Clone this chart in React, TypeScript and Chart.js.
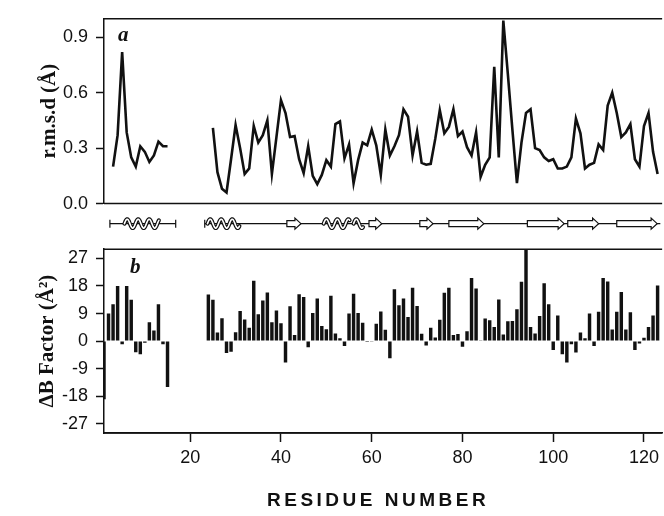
import React, { useEffect, useRef } from 'react';
import { Chart, registerables } from 'chart.js';

Chart.register(...registerables);

// ---------- data ----------
const FIRST_RESIDUE = 1;
const residueMin = 1;
const residueMax = 124;
const residueTicks = [20, 40, 60, 80, 100, 120];
const rmsdTicks = [0, 0.3, 0.6, 0.9];
const deltaBTicks = [-27, -18, -9, 0, 9, 18, 27];

// r.m.s.d (Å) per residue, residues 1..123 (null = no data)
const rmsd = [
  null, null, 0.20, 0.37, 0.82, 0.385, 0.25, 0.20, 0.31, 0.28, // 1-10
  0.225, 0.26, 0.335, 0.31, 0.31, null, null, null, null, null, // 11-20
  null, null, null, null, 0.41, 0.17, 0.08, 0.06, 0.24, 0.425, // 21-30
  0.30, 0.16, 0.19, 0.42, 0.33, 0.37, 0.45, 0.16, 0.36, 0.56, // 31-40
  0.49, 0.36, 0.365, 0.24, 0.165, 0.31, 0.15, 0.105, 0.155, 0.235, // 41-50
  0.20, 0.43, 0.445, 0.245, 0.32, 0.11, 0.235, 0.33, 0.315, 0.40, // 51-60
  0.315, 0.155, 0.40, 0.26, 0.31, 0.37, 0.51, 0.47, 0.26, 0.39, // 61-70
  0.22, 0.21, 0.215, 0.35, 0.505, 0.38, 0.415, 0.51, 0.365, 0.39, // 71-80
  0.305, 0.26, 0.385, 0.145, 0.21, 0.25, 0.74, 0.25, 0.99, 0.70, // 81-90
  0.40, 0.11, 0.33, 0.49, 0.51, 0.30, 0.29, 0.25, 0.23, 0.24, // 91-100
  0.19, 0.19, 0.20, 0.25, 0.46, 0.38, 0.19, 0.21, 0.22, 0.32, // 101-110
  0.29, 0.53, 0.60, 0.49, 0.36, 0.385, 0.43, 0.24, 0.20, 0.42, // 111-120
  0.49, 0.28, 0.16, // 121-123
];

// ΔB Factor (Å²) per residue, residues 1..123 (null = no data)
const deltaB = [
  -19, 9, 12, 18, -1, 18, 13.5, -3.6, -4.3, -0.5, // 1-10
  6.2, 3.5, 12, -1, -15, null, null, null, null, null, // 11-20
  null, null, null, 15.2, 13.5, 2.8, 7.5, -3.9, -3.5, 2.9, // 21-30
  9.8, 7.1, 4.4, 19.7, 8.8, 13.3, 15.9, 6.2, 10, 5.8, // 31-40
  -7, 11.4, 2, 15.3, 14.4, -2, 9.2, 13.9, 4.9, 3.9, // 41-50
  14.8, 2.5, 0.9, -1.6, 9, 15.5, 9.2, 6, -0.3, -0.2, // 51-60
  5.7, 9.7, 3.7, -5.6, 16.9, 11.7, 13.9, 7.9, 17.4, 11.5, // 61-70
  2.4, -1.4, 4.4, 1.2, 7, 15.8, 17.4, 2, 2.3, -1.8, // 71-80
  3.2, 20.6, 17.2, 0.3, 7.4, 6.8, 4.6, 13.6, 2.2, 6.5, // 81-90
  6.6, 10.4, 19.4, 29.8, 4.6, 2.5, 8.2, 18.9, 12, -2.9, // 91-100
  8.4, -4.3, -7, -1, -3.7, 2.8, 0.9, 9, -1.6, 9.6, // 101-110
  20.6, 19.5, 3.8, 9.6, 16, 3.8, 9.4, -2.9, -0.8, 1.1, // 111-120
  4.6, 8.4, 18.2, // 121-123
];

// secondary structure (residue ranges)
const coilSegments = [[2.3, 16.8], [23.2, 123.6]];
const coilCaps = [2.3, 16.8, 23.2];
const helixSegments = [[5.5, 13.2], [23.8, 30.9], [49.4, 55.2], [56.0, 58.2]];
const strandSegments = [
  [41.3, 44.4], [59.4, 62.2], [70.6, 73.5], [77.0, 84.7],
  [94.3, 102.4], [103.2, 110.0], [114.0, 122.9],
];

const panelLabels = ['a', 'b'];
const rmsdTitle = 'r.m.s.d (Å)';
const deltaBTitle = 'ΔB Factor (Å²)';
const xTitle = 'RESIDUE NUMBER';

// ---------- styling ----------
const INK = '#111111';
const SANS = '"Liberation Sans", Arial, sans-serif';
const SERIF = '"Liberation Serif", "Times New Roman", serif';

const framePlugin = {
  id: 'panelFrames',
  afterDatasetsDraw(chart: any) {
    const { ctx, chartArea } = chart;
    ctx.save();
    ctx.strokeStyle = INK;
    ctx.lineWidth = 1.5;
    for (const id of ['yA', 'yB']) {
      const s = chart.scales[id];
      ctx.beginPath();
      ctx.moveTo(chartArea.left, s.top);
      ctx.lineTo(chartArea.right, s.top);
      ctx.moveTo(chartArea.left, s.bottom);
      ctx.lineTo(chartArea.right, s.bottom);
      ctx.stroke();
    }
    ctx.restore();
  },
};

const structurePlugin = {
  id: 'secondaryStructure',
  afterDraw(chart: any) {
    const { ctx } = chart;
    const xs = chart.scales.x;
    const ys = chart.scales.ySS;
    const yc = ys.getPixelForValue(0.56);
    ctx.save();
    ctx.strokeStyle = INK;
    ctx.lineWidth = 1.2;
    // coil
    for (const [a, b] of coilSegments) {
      ctx.beginPath();
      ctx.moveTo(xs.getPixelForValue(a), yc);
      ctx.lineTo(Math.min(xs.getPixelForValue(b), chart.width), yc);
      ctx.stroke();
    }
    for (const c of coilCaps) {
      const px = xs.getPixelForValue(c);
      ctx.beginPath();
      ctx.moveTo(px, yc - 4);
      ctx.lineTo(px, yc + 4);
      ctx.stroke();
    }
    // helices
    for (const [a, b] of helixSegments) {
      const x0 = xs.getPixelForValue(a);
      const x1 = xs.getPixelForValue(b);
      const P = 11;
      const A = 4.5;
      const path = () => {
        ctx.beginPath();
        for (let x = x0; x <= x1; x += 0.5) {
          const y = yc - A * Math.sin((2 * Math.PI * (x - x0)) / P);
          if (x === x0) ctx.moveTo(x, y); else ctx.lineTo(x, y);
        }
      };
      ctx.lineCap = 'round';
      ctx.strokeStyle = INK;
      ctx.lineWidth = 4;
      path();
      ctx.stroke();
      ctx.strokeStyle = '#ffffff';
      ctx.lineWidth = 1.6;
      path();
      ctx.stroke();
    }
    // strands
    ctx.lineCap = 'butt';
    ctx.strokeStyle = INK;
    ctx.lineWidth = 1.2;
    for (const [a, b] of strandSegments) {
      const x0 = xs.getPixelForValue(a);
      const x1 = xs.getPixelForValue(b);
      const hx = x1 - 6;
      ctx.beginPath();
      ctx.moveTo(x0, yc - 3);
      ctx.lineTo(hx, yc - 3);
      ctx.lineTo(hx, yc - 5.5);
      ctx.lineTo(x1, yc);
      ctx.lineTo(hx, yc + 5.5);
      ctx.lineTo(hx, yc + 3);
      ctx.lineTo(x0, yc + 3);
      ctx.closePath();
      ctx.fillStyle = '#ffffff';
      ctx.fill();
      ctx.stroke();
    }
    ctx.restore();
  },
};

const textPlugin = {
  id: 'extraText',
  afterDraw(chart: any) {
    const { ctx, chartArea } = chart;
    const yA = chart.scales.yA;
    const yB = chart.scales.yB;
    ctx.save();
    ctx.fillStyle = INK;
    ctx.font = `italic bold 21px ${SERIF}`;
    ctx.textAlign = 'left';
    ctx.textBaseline = 'middle';
    ctx.fillText(panelLabels[0], chartArea.left + 14, yA.top + 17);
    ctx.fillText(panelLabels[1], chartArea.left + 26, yB.top + 18);
    // x axis title with wide letter spacing
    ctx.font = `bold 19px ${SANS}`;
    (ctx as any).letterSpacing = '3.5px';
    ctx.textAlign = 'center';
    ctx.fillText(xTitle, (chartArea.left + chartArea.right) / 2 - 5, chart.height - 15);
    ctx.restore();
  },
};

export default function App() {
  const canvasRef = useRef<HTMLCanvasElement | null>(null);

  useEffect(() => {
    document.body.style.margin = '0';
    document.body.style.overflow = 'hidden';
    const canvas = canvasRef.current;
    if (!canvas) return;

    const linePoints = rmsd.map((v, i) => ({ x: FIRST_RESIDUE + i, y: v }));
    const barPoints = deltaB.map((v, i) => ({ x: FIRST_RESIDUE + i, y: v }));

    const yTickCommon = {
      color: INK,
      font: { family: SANS, size: 18 },
      padding: 8,
      autoSkip: false,
    };
    const yGrid = {
      drawOnChartArea: false,
      drawTicks: true,
      tickLength: 8,
      tickWidth: 1.5,
      tickColor: INK,
    };

    const chart = new Chart(canvas, {
      type: 'bar',
      data: {
        datasets: [
          {
            type: 'line',
            label: 'r.m.s.d',
            data: linePoints as any,
            xAxisID: 'x',
            yAxisID: 'yA',
            borderColor: INK,
            borderWidth: 2.6,
            pointRadius: 0,
            tension: 0,
            spanGaps: false,
            fill: false,
            borderJoinStyle: 'miter',
          } as any,
          {
            type: 'bar',
            label: 'ΔB Factor',
            data: barPoints as any,
            xAxisID: 'x',
            yAxisID: 'yB',
            backgroundColor: INK,
            borderWidth: 0,
            barPercentage: 0.8,
            categoryPercentage: 0.95,
          } as any,
        ],
      },
      options: {
        responsive: false,
        animation: false,
        events: [],
        layout: { padding: { top: 16, left: 0, right: 0, bottom: 0 } },
        plugins: {
          legend: { display: false },
          tooltip: { enabled: false },
        },
        scales: {
          x: {
            type: 'linear',
            position: 'bottom',
            min: residueMin,
            max: residueMax,
            offset: false,
            afterBuildTicks: (s: any) => {
              s.ticks = residueTicks.map((v) => ({ value: v }));
            },
            afterFit: (s: any) => {
              s.height = 83;
            },
            grid: {
              offset: false,
              drawOnChartArea: false,
              drawTicks: true,
              tickLength: 9,
              tickWidth: 1.5,
              tickColor: INK,
            },
            border: { display: true, color: INK, width: 1.5 },
            ticks: {
              color: INK,
              font: { family: SANS, size: 18 },
              padding: 5,
              maxRotation: 0,
              autoSkip: false,
              callback: (v: any) => String(v),
            },
          },
          yA: {
            type: 'linear',
            position: 'left',
            stack: 'panels',
            stackWeight: 186,
            weight: 3,
            min: 0,
            max: 1.0,
            afterBuildTicks: (s: any) => {
              s.ticks = rmsdTicks.map((v) => ({ value: v }));
            },
            afterFit: (s: any) => {
              s.width = 104;
            },
            grid: yGrid,
            border: { display: true, color: INK, width: 1.5 },
            ticks: { ...yTickCommon, callback: (v: any) => Number(v).toFixed(1) },
            title: {
              display: true,
              text: rmsdTitle,
              color: INK,
              font: { family: SERIF, size: 21, weight: 'bold' },
              padding: { top: 37, bottom: 0 },
            },
          },
          ySS: {
            type: 'linear',
            position: 'left',
            stack: 'panels',
            stackWeight: 46,
            weight: 2,
            min: 0,
            max: 1,
            afterFit: (s: any) => {
              s.width = 104;
            },
            grid: { display: false },
            border: { display: false },
            ticks: { display: false },
          },
          yB: {
            type: 'linear',
            position: 'left',
            stack: 'panels',
            stackWeight: 185,
            weight: 1,
            min: -30,
            max: 30,
            afterBuildTicks: (s: any) => {
              s.ticks = deltaBTicks.map((v) => ({ value: v }));
            },
            afterFit: (s: any) => {
              s.width = 104;
            },
            grid: yGrid,
            border: { display: true, color: INK, width: 1.5 },
            ticks: { ...yTickCommon, callback: (v: any) => String(v) },
            title: {
              display: true,
              text: deltaBTitle,
              color: INK,
              font: { family: SERIF, size: 21, weight: 'bold' },
              padding: { top: 35, bottom: 0 },
            },
          },
        },
      } as any,
      plugins: [framePlugin, structurePlugin, textPlugin],
    });

    return () => {
      chart.destroy();
    };
  }, []);

  return (
    <div style={{ width: 664, height: 516, background: '#ffffff' }}>
      <canvas ref={canvasRef} width={664} height={516} style={{ display: 'block' }} />
    </div>
  );
}
